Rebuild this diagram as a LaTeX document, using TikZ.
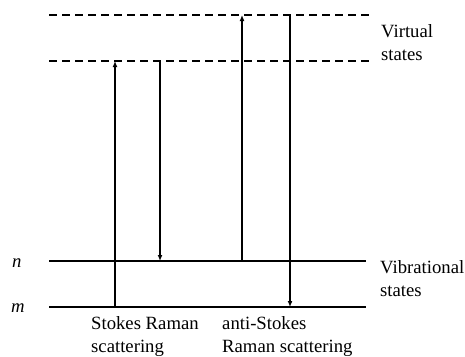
\documentclass[tikz,border=0pt]{standalone}
\usepackage{fontspec}
\setmainfont{Liberation Serif}
\usepackage{tikz}
\usetikzlibrary{arrows.meta}
\tikzset{
  virtual/.style={line width=1.3pt,dash pattern=on 8pt off 5pt},
  vib/.style={line width=1.5pt},
  ground/.style={line width=2.6pt},
  trans/.style={line width=1.4pt,-{Latex[length=6pt,width=5pt]}},
  lbl/.style={inner sep=0pt,anchor=west,align=left,font=\fontsize{18.7}{23}\selectfont},
}

\begin{document}
\begin{tikzpicture}[x=1pt,y=-1pt]%<<<
\useasboundingbox (0,0) rectangle (465,356);
% levels
\coordinate (vtL) at (49,15);  \coordinate (vtR) at (373,15);
\coordinate (vbL) at (49,61);  \coordinate (vbR) at (373,61);
\coordinate (nL) at (49,261);  \coordinate (nR) at (366,261);
\coordinate (mL) at (49,307);  \coordinate (mR) at (366,307);
\draw[virtual] (vtL) -- (vtR);
\draw[virtual] (vbL) -- (vbR);
\draw[vib] (nL) -- (nR);
\draw[ground] (mL) -- (mR);
% transitions
\coordinate (s1) at (115,307); \coordinate (s1') at (115,61);
\coordinate (s2) at (160,61);  \coordinate (s2') at (160,261);
\coordinate (a1) at (242,261); \coordinate (a1') at (242,15);
\coordinate (a2) at (290,15);  \coordinate (a2') at (290,307);
\draw[trans] (s1) -- (s1');
\draw[trans] (s2) -- (s2');
\draw[trans] (a1) -- (a1');
\draw[trans] (a2) -- (a2');
% labels
\node[lbl] (n) at (12,263) {\textit{n}};
\node[lbl] (m) at (11,308) {\textit{m}};
\node[lbl] (virt) at (381,43) {Virtual\\states};
\node[lbl] (vibr) at (380,279) {Vibrational\\states};
\node[lbl] (stokes) at (91,336.5) {Stokes Raman\\scattering};
\node[lbl] (anti) at (222,336.5) {anti-Stokes\\Raman scattering};
\end{tikzpicture}%>>>
\end{document}
